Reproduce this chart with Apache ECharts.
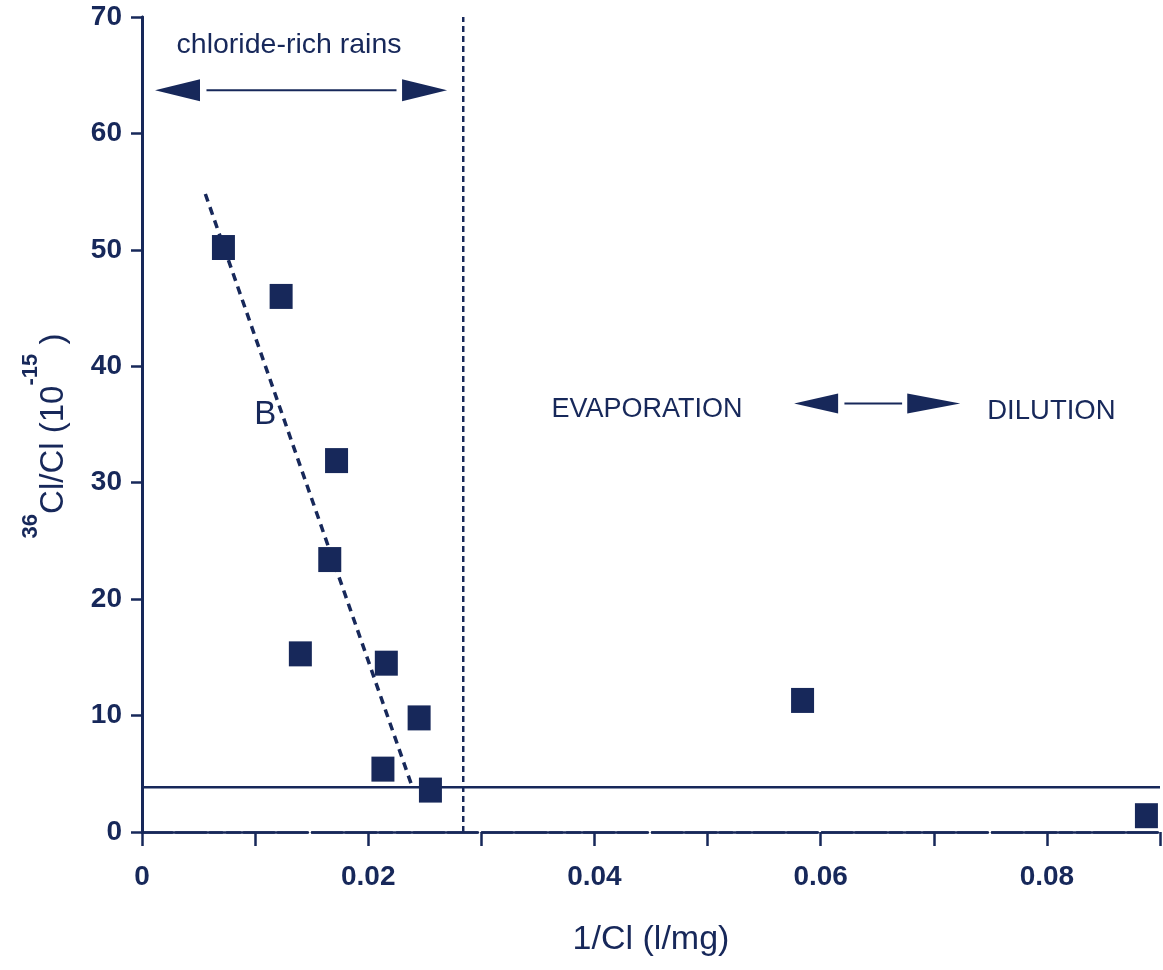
<!DOCTYPE html>
<html>
<head>
<meta charset="utf-8">
<script src="https://cdn.jsdelivr.net/npm/echarts@6/dist/echarts.min.js"></script>
<style>
  html, body { margin: 0; padding: 0; background: #ffffff; }
  #chart { width: 1163px; height: 970px; }
</style>
</head>
<body>
<div id="chart"></div>
<script>
// Sample values: 1/Cl (l/mg) against 36Cl/Cl (x 1e-15)
const invChloride = [0.0072, 0.0123, 0.0172, 0.0166, 0.0140, 0.0216, 0.0245, 0.0213, 0.0255, 0.0584, 0.0888];
const clRatio     = [50.2,   46.0,   31.9,   23.4,   15.3,   14.5,   9.8,    5.4,    3.6,    11.3,   1.4];

// Axis tick labels (x ticks every 0.01, labelled every 0.02)
const xTickLabels = ['0', '', '0.02', '', '0.04', '', '0.06', '', '0.08', ''];
const yTickLabels = ['0', '10', '20', '30', '40', '50', '60', '70'];

// Mixing trend "B" end points
const trendX = [0.0056, 0.0239];
const trendY = [54.8, 3.85];

// 36Cl/Cl of the rain input and the chloride-rich rain limit on 1/Cl
const rainRatio = 3.85;
const rainLimit = 0.0284;

const INK = '#17285a';
const FONT = '"Liberation Sans", Arial, Helvetica, sans-serif';

const chart = echarts.init(document.getElementById('chart'), null, { renderer: 'canvas' });

function segment(name, pts, style) {
  return {
    name: name, type: 'line', data: pts, symbol: 'none', silent: true,
    lineStyle: Object.assign({ color: INK, width: 2.5 }, style), z: 3
  };
}

const RIGHT_HEAD = 'path://M0,0L10,5L0,10Z';
const LEFT_HEAD = 'path://M10,0L0,5L10,10Z';

function textItem(text, x, y, size) {
  return { value: [x, y], name: text, label: { fontSize: size } };
}

const option = {
  animation: false,
  backgroundColor: '#ffffff',
  grid: { left: 142, right: 3, top: 17, bottom: 138, containLabel: false },
  xAxis: [{
    type: 'value', min: 0, max: 0.09, interval: 0.01,
    name: '1/Cl (l/mg)', nameLocation: 'middle', nameGap: 91,
    nameTextStyle: { fontSize: 34, color: INK, fontFamily: FONT },
    axisLine: { show: true, onZero: false, lineStyle: { color: INK, width: 2.5, type: [30, 4] } },
    axisTick: { show: true, inside: false, length: 14, lineStyle: { color: INK, width: 2.5 } },
    axisLabel: {
      show: true, margin: 31, fontSize: 28, fontWeight: 'bold', color: INK, fontFamily: FONT,
      formatter: v => xTickLabels[Math.round(v / 0.01)] || ''
    },
    splitLine: { show: false }
  }, {
    type: 'value', position: 'top', min: 0, max: 0.09,
    axisLine: { show: true, lineStyle: { color: INK, width: 2.5, type: [80, 5] } },
    axisTick: { show: false }, axisLabel: { show: false }, splitLine: { show: false }
  }],
  yAxis: [{
    type: 'value', min: 0, max: 70, interval: 10,
    name: '{sup|36}{main|Cl/Cl (10}{sup|-15}{main| )}',
    nameLocation: 'middle', nameGap: 72,
    nameTextStyle: {
      color: INK, fontFamily: FONT, padding: [0, 23, 0, 0],
      rich: {
        main: { fontSize: 33, lineHeight: 50, color: INK, fontFamily: FONT, verticalAlign: 'bottom' },
        sup: { fontSize: 22, lineHeight: 50, fontWeight: 'bold', color: INK, fontFamily: FONT,
               verticalAlign: 'top' }
      }
    },
    axisLine: { show: true, onZero: false, lineStyle: { color: INK, width: 3 } },
    axisTick: { show: true, inside: false, length: 11, lineStyle: { color: INK, width: 2.5 } },
    axisLabel: {
      show: true, margin: 20, fontSize: 28, fontWeight: 'bold', color: INK, fontFamily: FONT,
      formatter: v => yTickLabels[Math.round(v / 10)] || ''
    },
    splitLine: { show: false }
  }, {
    type: 'value', position: 'right', min: 0, max: 70,
    axisLine: { show: true, lineStyle: { color: INK, width: 2.5 } },
    axisTick: { show: false }, axisLabel: { show: false }, splitLine: { show: false }
  }],
  series: [
    segment('rain', [[0, rainRatio], [0.09, rainRatio]], { width: 2.5 }),
    segment('limit', [[rainLimit, 0], [rainLimit, 70]], { width: 2.5, type: [6, 4] }),
    segment('trend B', trendX.map((x, i) => [x, trendY[i]]), { width: 3.5, type: [8, 6] }),
    segment('arrow rains', [[0.0057, 63.7], [0.0225, 63.7]], { width: 2 }),
    segment('arrow evap', [[0.0621, 36.8], [0.0672, 36.8]], { width: 2 }),
    {
      name: 'arrow heads', type: 'scatter', silent: true, z: 4,
      itemStyle: { color: INK, opacity: 1 },
      data: [
        { value: [0.00314, 63.7], symbol: LEFT_HEAD, symbolSize: [45, 22] },
        { value: [0.02498, 63.7], symbol: RIGHT_HEAD, symbolSize: [45, 22] },
        { value: [0.0596, 36.8], symbol: LEFT_HEAD, symbolSize: [44, 20] },
        { value: [0.0700, 36.8], symbol: RIGHT_HEAD, symbolSize: [53, 20] }
      ]
    },
    {
      name: 'samples', type: 'scatter', z: 5,
      symbol: 'rect', symbolSize: [23, 25],
      itemStyle: { color: INK, opacity: 1 },
      data: invChloride.map((x, i) => [x, clRatio[i]])
    },
    {
      name: 'notes', type: 'scatter', silent: true, z: 6,
      symbolSize: 1, itemStyle: { color: 'rgba(0,0,0,0)', opacity: 1 },
      label: {
        show: true, position: 'inside', formatter: '{b}',
        color: INK, fontFamily: FONT, fontSize: 27
      },
      data: [
        textItem('chloride-rich rains', 0.0130, 67.6, 28.5),
        textItem('B', 0.0109, 35.8, 33),
        textItem('EVAPORATION', 0.04465, 36.3, 27),
        textItem('DILUTION', 0.0804, 36.1, 27.5)
      ]
    }
  ]
};

chart.setOption(option);
</script>
</body>
</html>
